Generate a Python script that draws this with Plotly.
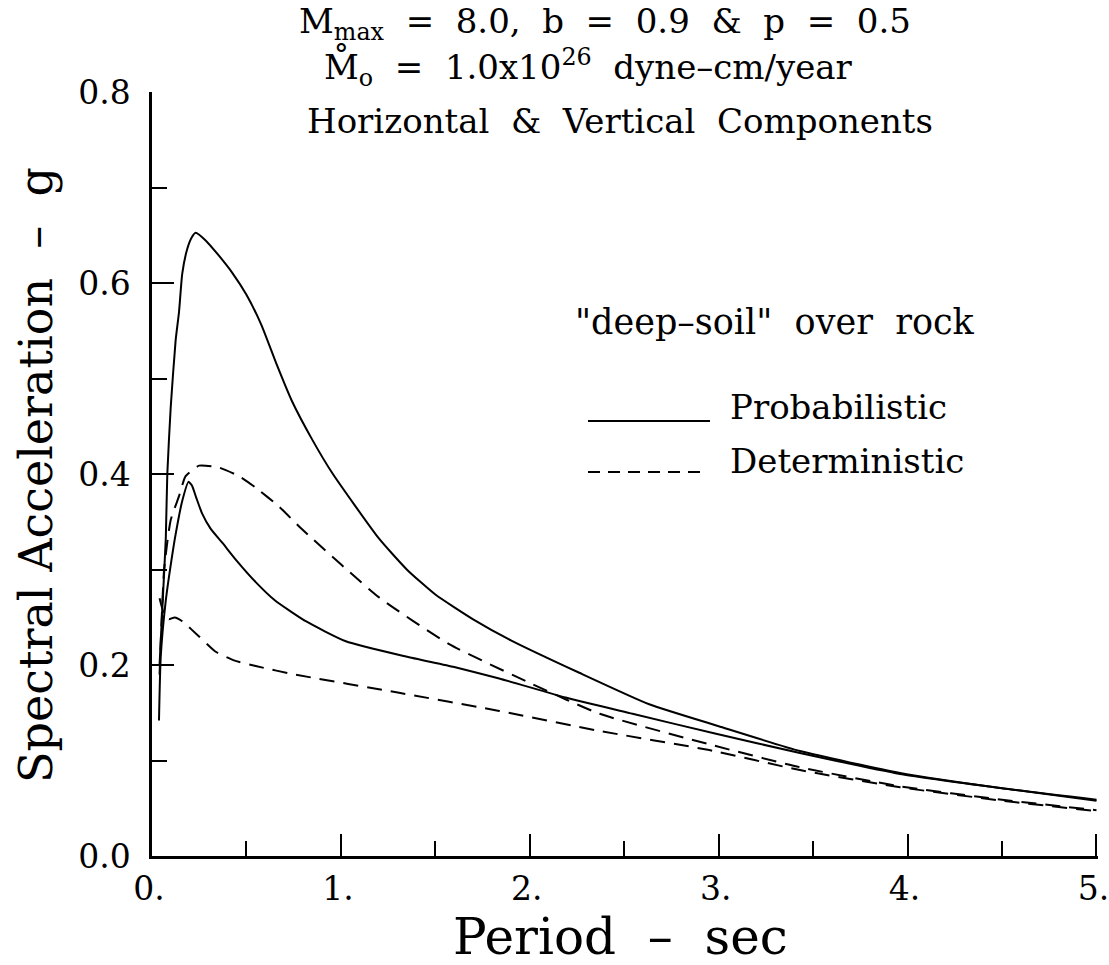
import plotly.graph_objects as go

# ---- data ----
h_prob_x = [0.04, 0.06, 0.073, 0.081, 0.099, 0.125, 0.143, 0.16, 0.185, 0.21, 0.231, 0.284, 0.35, 0.425,
            0.50, 0.58, 0.66, 0.74, 0.849, 0.955, 1.2, 1.35, 1.5, 1.7, 1.9, 2.262, 2.632, 3.0, 3.43, 3.96, 4.5, 5.0]
h_prob_y = [0.20, 0.28, 0.333, 0.40, 0.47, 0.54, 0.57, 0.61, 0.635, 0.648, 0.653, 0.645, 0.63, 0.611,
            0.588, 0.556, 0.515, 0.477, 0.436, 0.401, 0.333, 0.300, 0.274, 0.248, 0.226, 0.192, 0.159, 0.136,
            0.110, 0.087, 0.071, 0.059]

v_prob_x = [0.037, 0.046, 0.072, 0.1, 0.125, 0.16, 0.193, 0.212, 0.235, 0.265, 0.31, 0.373, 0.45, 0.549,
            0.65, 0.814, 1.026, 1.344, 1.6, 1.838, 2.19, 2.544, 2.986, 3.43, 3.96, 4.5, 5.0]
v_prob_y = [0.142, 0.208, 0.266, 0.306, 0.337, 0.372, 0.392, 0.388, 0.375, 0.359, 0.343, 0.328, 0.309, 0.287,
            0.268, 0.246, 0.225, 0.209, 0.198, 0.186, 0.166, 0.149, 0.128, 0.108, 0.086, 0.071, 0.058]

h_det_x = [0.04, 0.064, 0.099, 0.143, 0.178, 0.249, 0.355, 0.461, 0.549, 0.673, 0.796, 1.202, 1.573,
           2.014, 2.37, 2.95, 3.43, 3.96, 4.5, 5.0]
h_det_y = [0.19, 0.30, 0.352, 0.377, 0.398, 0.409, 0.407, 0.398, 0.386, 0.366, 0.342, 0.271, 0.222,
           0.180, 0.149, 0.117, 0.093, 0.073, 0.059, 0.048]

v_det_x = [0.04, 0.07, 0.09, 0.12, 0.16, 0.249, 0.337, 0.434, 0.549, 0.761, 1.308, 1.838, 2.37, 2.95,
           3.43, 3.96, 4.5, 5.0]
v_det_y = [0.27, 0.25, 0.248, 0.25, 0.246, 0.23, 0.214, 0.205, 0.199, 0.19, 0.171, 0.152, 0.131, 0.111,
           0.090, 0.072, 0.058, 0.047]

x_tickvals = [0, 1, 2, 3, 4, 5]
x_ticktext = ["0.", "1.", "2.", "3.", "4.", "5."]
y_tickvals = [0.0, 0.2, 0.4, 0.6, 0.8]
y_ticktext = ["0.0", "0.2", "0.4", "0.6", "0.8"]

W, H = 1109, 965
L, R, T, B = 152, 11, 92, 109
FONT = "DejaVu Serif"
DASH = "15px,9px"
NB = "\u00a0"
XMAX = 5.008   # a hair past 5 so the end tick is drawn


def px(xp):
    return (xp - L) / (W - L - R)


def py(yp):
    return (H - B - yp) / (H - T - B)


fig = go.Figure()
for xs, ys, dash in [(h_prob_x, h_prob_y, "solid"), (v_prob_x, v_prob_y, "solid"),
                     (h_det_x, h_det_y, DASH), (v_det_x, v_det_y, DASH)]:
    fig.add_trace(go.Scatter(x=xs, y=ys, mode="lines", showlegend=False,
                             line=dict(color="black", width=2, dash=dash, shape="spline", smoothing=0.5)))

axis_common = dict(showgrid=False, zeroline=False, showline=True, linecolor="black", linewidth=2.5,
                   ticks="inside", tickcolor="black", tickwidth=2, ticklen=22,
                   ticklabeloverflow="allow",
                   tickfont=dict(family=FONT, size=33, color="black"))

fig.update_xaxes(range=[0, XMAX], tickvals=x_tickvals, ticktext=x_ticktext,
                 minor=dict(dtick=0.5, ticks="inside", ticklen=15, tickwidth=2, tickcolor="black"),
                 ticklabelstandoff=2, ticklabelshift=-3, **axis_common)
fig.update_yaxes(range=[0, 0.8005], tickvals=y_tickvals, ticktext=y_ticktext,
                 minor=dict(dtick=0.1, ticks="inside", ticklen=15, tickwidth=2, tickcolor="black"),
                 ticklabelstandoff=12, **axis_common)

ann = []


def text(xp, yp, s, size, xanchor="center", angle=0):
    ann.append(dict(x=px(xp), y=py(yp), xref="paper", yref="paper", text=s, showarrow=False,
                    xanchor=xanchor, yanchor="middle", textangle=angle,
                    font=dict(family=FONT, size=size, color="black")))


sp = NB * 2
text(605, 24, f"M<sub>max</sub>{sp}={sp}8.0,{sp}b{sp}={sp}0.9{sp}&amp;{sp}p{sp}={sp}0.5", 34)
text(588, 67, f"M\u030A<sub>o</sub>{sp}={sp}1.0x10<sup>26</sup>{sp}dyne\u2013cm/year", 34)
text(620, 121, f"Horizontal{sp}&amp;{sp}Vertical{sp}Components", 34)
text(977, 322, f"\"deep\u2013soil\"{sp}over{sp}rock", 35, xanchor="right")
text(728, 407, "Probabilistic", 34, xanchor="left")
text(728, 461, "Deterministic", 34, xanchor="left")
text(36, 475, f"Spectral{NB}Acceleration{NB*2}\u2013{NB*2}g", 46, angle=-90)
text(620, 937, f"Period{NB*2}\u2013{NB*2}sec", 50)

fig.update_layout(
    width=W, height=H, margin=dict(l=L, r=R, t=T, b=B, autoexpand=False),
    paper_bgcolor="white", plot_bgcolor="white", annotations=ann,
    shapes=[
        dict(type="line", xref="paper", yref="paper", x0=px(588), x1=px(710), y0=py(421), y1=py(421),
             line=dict(color="black", width=2)),
        dict(type="line", xref="paper", yref="paper", x0=px(588), x1=px(702), y0=py(472), y1=py(472),
             line=dict(color="black", width=2, dash="12px,8px")),
    ],
)

fig.write_html("out.html")
